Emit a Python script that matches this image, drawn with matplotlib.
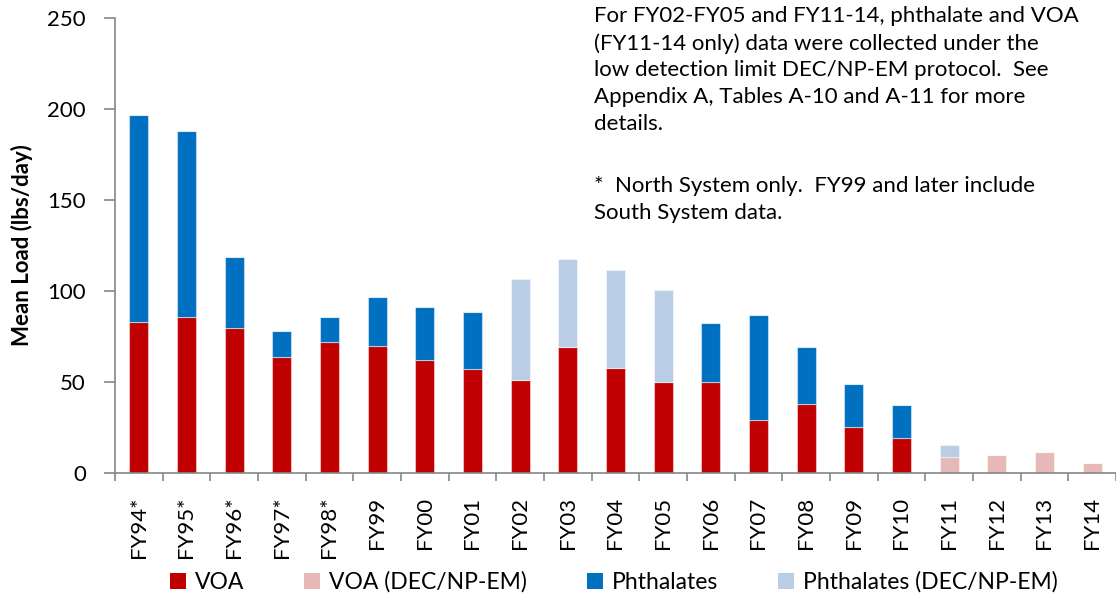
import numpy as np
import matplotlib
matplotlib.use("Agg")
import matplotlib.pyplot as plt
from matplotlib.patches import Patch

plt.rcParams["font.family"] = ["Lato", "DejaVu Sans"]

years = ["FY94*", "FY95*", "FY96*", "FY97*", "FY98*", "FY99", "FY00", "FY01",
         "FY02", "FY03", "FY04", "FY05", "FY06", "FY07", "FY08", "FY09",
         "FY10", "FY11", "FY12", "FY13", "FY14"]
# stacked bar segments (lbs/day), zero where a series is absent
voa = [83.0, 85.7, 79.9, 63.6, 72.2, 70.0, 62.3, 57.1, 51.1, 69.2, 57.9, 50.0,
       50.2, 29.3, 38.1, 25.1, 19.0, 0, 0, 0, 0]
voa_dec = [0, 0, 0, 0, 0, 0, 0, 0, 0, 0, 0, 0,
           0, 0, 0, 0, 0, 8.6, 9.9, 11.5, 5.3]
phth = [113.5, 102.0, 39.0, 14.4, 13.3, 26.5, 28.9, 31.2, 0, 0, 0, 0,
        32.2, 57.3, 31.1, 23.6, 18.4, 0, 0, 0, 0]
phth_dec = [0, 0, 0, 0, 0, 0, 0, 0, 55.3, 48.4, 53.5, 50.5,
            0, 0, 0, 0, 0, 6.6, 0, 0, 0]

series = [("VOA", voa, "#C00000"),
          ("VOA (DEC/NP-EM)", voa_dec, "#E6B9B8"),
          ("Phthalates", phth, "#0070C0"),
          ("Phthalates (DEC/NP-EM)", phth_dec, "#B9CDE5")]

fig = plt.figure(figsize=(11.16, 6.02), dpi=100)
ax = fig.add_axes([0.103, 0.2143, 0.897, 0.7557])

x = np.arange(len(years))
bottom = np.zeros(len(years))
for name, vals, col in series:
    vals = np.array(vals, dtype=float)
    ax.bar(x, vals, width=0.4, bottom=bottom, color=col,
           edgecolor=(1, 1, 1, 0.45), linewidth=0.8)
    bottom += vals

grey = "#868686"
ax.set_xlim(-0.5, len(years) - 0.5)
ax.set_ylim(0, 250)
ax.set_yticks([0, 50, 100, 150, 200, 250])
ax.tick_params(axis="y", labelsize=16, length=8, width=1.2, color=grey, pad=13)
ax.set_xticks(x)
ax.set_xticklabels(years, rotation=90, fontsize=16)
ax.tick_params(axis="x", which="major", length=0, pad=17)
ax.set_xticks(np.arange(-0.5, len(years)), minor=True)
ax.tick_params(axis="x", which="minor", length=6, width=1.2, color=grey)
for s in ["top", "right"]:
    ax.spines[s].set_visible(False)
for s in ["left", "bottom"]:
    ax.spines[s].set_color(grey)
    ax.spines[s].set_linewidth(1.2)

ax.set_ylabel("Mean Load (lbs/day)", fontsize=16, fontweight="bold", labelpad=10)

fig.text(0.532, 0.99,
         "For FY02-FY05 and FY11-14, phthalate and VOA\n"
         "(FY11-14 only) data were collected under the\n"
         "low detection limit DEC/NP-EM protocol.  See\n"
         "Appendix A, Tables A-10 and A-11 for more\n"
         "details.",
         fontsize=16, va="top", ha="left", linespacing=1.42)
fig.text(0.532, 0.708,
         "*  North System only.  FY99 and later include\n"
         "South System data.",
         fontsize=16, va="top", ha="left", linespacing=1.42)

handles = [Patch(facecolor=col, label=name) for name, _, col in series]
fig.legend(handles=handles, loc="center", bbox_to_anchor=(0.55, 0.033), ncol=4,
           frameon=False, fontsize=16.5, handlelength=0.7, handleheight=0.7,
           handletextpad=0.4, columnspacing=2.6)

fig.savefig("out.png", dpi=100)
